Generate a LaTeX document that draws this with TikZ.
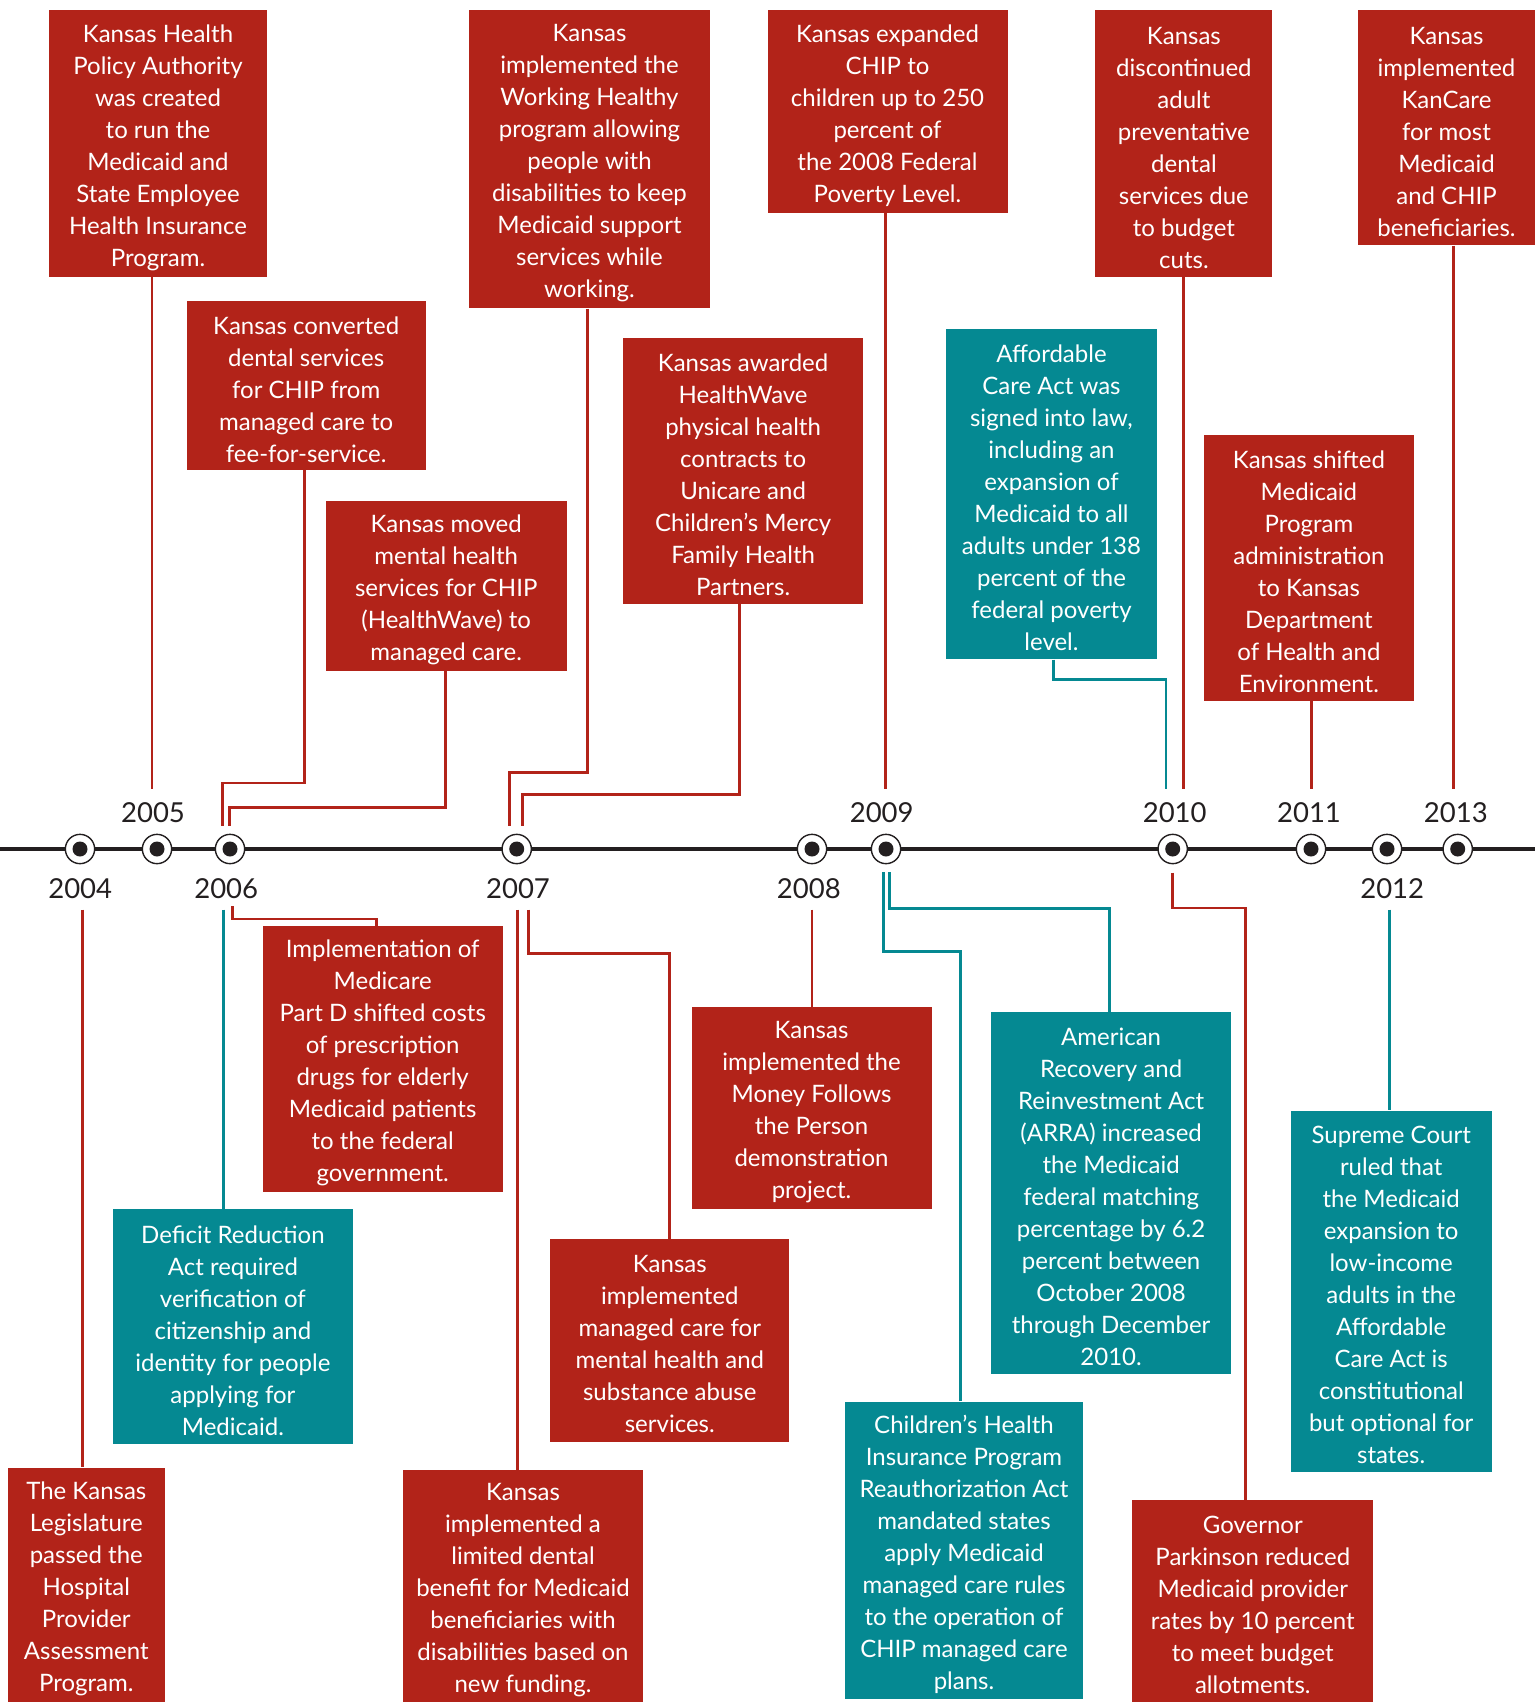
\documentclass[tikz,border=0pt]{standalone}
\usepackage{fontspec}
\setmainfont{Lato}
\definecolor{kred}{RGB}{178,35,25}
\definecolor{kteal}{RGB}{5,137,146}
\definecolor{kink}{RGB}{35,31,32}
\newcommand\evstrut{\rule{0pt}{25.5pt}}
\begin{document}
\begin{tikzpicture}[x=1pt,y=-1pt,
 evbox/.style={inner sep=0pt, text=white, align=center, font=\fontsize{24}{32}\selectfont},
 redbox/.style={evbox, fill=kred},
 tealbox/.style={evbox, fill=kteal},
 redline/.style={draw=kred, line width=2.7pt},
 tealline/.style={draw=kteal, line width=2.7pt},
 yearlab/.style={text=kink, font=\fontsize{27.5}{30}\selectfont, anchor=base, inner sep=0pt},
 marker/.style={circle, draw=kink, line width=1.4pt, fill=white, minimum size=29.3pt, inner sep=0pt,
   path picture={\fill[kink] (path picture bounding box.center) circle (7.5pt);}}]
\useasboundingbox (0,0) rectangle (1535,1702);
% timeline
\coordinate (tl0) at (0,849);
\coordinate (tl1) at (1535,849);
\draw[kink, line width=3.3pt] (tl0) -- (tl1);

% top boxes
\node[redbox, minimum width=218pt, minimum height=266.4pt] (A) at (158,143.5)
 {\evstrut Kansas Health\\Policy Authority\\was created\\to run the\\Medicaid and\\State Employee\\Health Insurance\\Program.};
\node[redbox, minimum width=239pt, minimum height=169.4pt] (B) at (306.2,385.4)
 {\evstrut Kansas converted\\dental services\\for CHIP from\\managed care to\\fee-for-service.};
\node[redbox, minimum width=241pt, minimum height=170.4pt] (C) at (446.2,585.7)
 {\evstrut Kansas moved\\mental health\\services for CHIP\\(HealthWave) to\\managed care.};
\node[redbox, minimum width=241pt, minimum height=298pt] (D) at (589.5,159.3)
 {\evstrut Kansas\\implemented the\\Working Healthy\\program allowing\\people with\\disabilities to keep\\Medicaid support\\services while\\working.};
\node[redbox, minimum width=240pt, minimum height=266pt] (E) at (743.1,470.6)
 {\evstrut Kansas awarded\\HealthWave\\physical health\\contracts to\\Unicare and\\Children’s Mercy\\Family Health\\Partners.};
\node[redbox, minimum width=240pt, minimum height=202.5pt] (F) at (887.5,111.5)
 {\evstrut Kansas expanded\\CHIP to\\children up to 250\\percent of\\the 2008 Federal\\Poverty Level.};
\node[tealbox, minimum width=211pt, minimum height=330pt] (G) at (1051.5,494.3)
 {\evstrut Affordable\\Care Act was\\signed into law,\\including an\\expansion of\\Medicaid to all\\adults under 138\\percent of the\\federal poverty\\level.};
\node[redbox, minimum width=177pt, minimum height=266.5pt] (H) at (1183.9,143.5)
 {\evstrut Kansas\\discontinued\\adult\\preventative\\dental\\services due\\to budget\\cuts.};
\node[redbox, minimum width=209.2pt, minimum height=265.4pt] (I) at (1308.9,568)
 {\evstrut Kansas shifted\\Medicaid\\Program\\administration\\to Kansas\\Department\\of Health and\\Environment.};
\node[redbox, minimum width=177pt, minimum height=235pt] (J) at (1446.5,127.8)
 {\evstrut Kansas\\implemented\\KanCare\\for most\\Medicaid\\and CHIP\\beneficiaries.};

% bottom boxes
\node[redbox, minimum width=157.5pt, minimum height=234.5pt] (K) at (86.3,1584.8)
 {\evstrut The Kansas\\Legislature\\passed the\\Hospital\\Provider\\Assessment\\Program.};
\node[tealbox, minimum width=240pt, minimum height=234.4pt] (L) at (232.9,1326.6)
 {\evstrut Deficit Reduction\\Act required\\verification of\\citizenship and\\identity for people\\applying for\\Medicaid.};
\node[redbox, minimum width=240pt, minimum height=266pt] (M) at (382.7,1059)
 {\evstrut Implementation of\\Medicare\\Part D shifted costs\\of prescription\\drugs for elderly\\Medicaid patients\\to the federal\\government.};
\node[redbox, minimum width=240pt, minimum height=232pt] (N) at (523,1586)
 {\evstrut Kansas\\implemented a\\limited dental\\benefit for Medicaid\\beneficiaries with\\disabilities based on\\new funding.};
\node[redbox, minimum width=238.8pt, minimum height=203pt] (O) at (669.8,1340.2)
 {\evstrut Kansas\\implemented\\managed care for\\mental health and\\substance abuse\\services.};
\node[redbox, minimum width=240pt, minimum height=202pt] (P) at (811.5,1108.4)
 {\evstrut Kansas\\implemented the\\Money Follows\\the Person\\demonstration\\project.};
\node[tealbox, minimum width=238.8pt, minimum height=297.5pt] (Q) at (964,1550.3)
 {\evstrut Children’s Health\\Insurance Program\\Reauthorization Act\\mandated states\\apply Medicaid\\managed care rules\\to the operation of\\CHIP managed care\\plans.};
\node[tealbox, minimum width=240pt, minimum height=362.6pt] (R) at (1111.1,1193.1)
 {\evstrut American\\Recovery and\\Reinvestment Act\\(ARRA) increased\\the Medicaid\\federal matching\\percentage by 6.2\\percent between\\October 2008\\through December\\2010.};
\node[tealbox, minimum width=200.8pt, minimum height=361.5pt] (S) at (1391.2,1291.3)
 {\evstrut Supreme Court\\ruled that\\the Medicaid\\expansion to\\low-income\\adults in the\\Affordable\\Care Act is\\constitutional\\but optional for\\states.};
\node[redbox, minimum width=241pt, minimum height=201.7pt] (T) at (1252.8,1601.2)
 {\evstrut Governor\\Parkinson reduced\\Medicaid provider\\rates by 10 percent\\to meet budget\\allotments.};

% connector ends
\coordinate (eA) at (152,788.5);
\coordinate (eB) at (222.7,826);
\coordinate (eC) at (229.7,826);
\coordinate (eD) at (509.3,826);
\coordinate (eE) at (522.7,826);
\coordinate (eF) at (885.5,788.5);
\coordinate (eG) at (1166,788.5);
\coordinate (eH) at (1183.3,788.5);
\coordinate (eI) at (1311.4,788.5);
\coordinate (eJ) at (1453.6,788.5);
\coordinate (sK) at (82.5,909.5);
\coordinate (sL) at (223.6,909.5);
\coordinate (sM) at (232.3,906);
\coordinate (sN) at (517.3,909.5);
\coordinate (sO) at (528.7,909.5);
\coordinate (sP) at (812,909.5);
\coordinate (sQ) at (883.3,872.3);
\coordinate (sR) at (889.3,872.3);
\coordinate (sS) at (1389.3,909.5);
\coordinate (sT) at (1172.3,872.5);

% connectors above
\draw[redline] (eA |- A.south) -- (eA);
\draw[redline] ([xshift=-2pt]B.south) |- ([yshift=43pt]eB) -- (eB);
\draw[redline] ([xshift=-1pt]C.south) |- ([yshift=18.7pt]eC) -- (eC);
\draw[redline] ([xshift=-2.2pt]D.south) |- ([yshift=53.3pt]eD) -- (eD);
\draw[redline] ([xshift=-3.8pt]E.south) |- ([yshift=31.7pt]eE) -- (eE);
\draw[redline] (eF |- F.south) -- (eF);
\draw[tealline] ([xshift=1.8pt]G.south) |- ([yshift=109.2pt]eG) -- (eG);
\draw[redline] (eH |- H.south) -- (eH);
\draw[redline] (eI |- I.south) -- (eI);
\draw[redline] (eJ |- J.south) -- (eJ);
% connectors below
\draw[redline] (sK) -- (sK |- K.north);
\draw[tealline] (sL) -- (sL |- L.north);
\draw[redline] (sM) |- ([xshift=-6pt,yshift=6.7pt]M.north) -- ([xshift=-6pt]M.north);
\draw[redline] (sN) -- (sN |- N.north);
\draw[redline] (sO) |- ([yshift=284.7pt]O.north) -- (O.north);
\draw[redline] (sP) -- (sP |- P.north);
\draw[tealline] (sQ) |- ([xshift=-3.7pt,yshift=450.2pt]Q.north) -- ([xshift=-3.7pt]Q.north);
\draw[tealline] (sR) |- ([xshift=-1.8pt,yshift=103.1pt]R.north) -- ([xshift=-1.8pt]R.north);
\draw[tealline] (sS) -- (sS |- S.north);
\draw[redline] (sT) |- ([xshift=-7.1pt,yshift=592.3pt]T.north) -- ([xshift=-7.1pt]T.north);

% markers
\node[marker] (m2004) at (80,849) {};
\node[marker] (m2005) at (157,849) {};
\node[marker] (m2006) at (230,849) {};
\node[marker] (m2007) at (516.7,849) {};
\node[marker] (m2008) at (812,849) {};
\node[marker] (m2009) at (886,849) {};
\node[marker] (m2010) at (1172.7,849) {};
\node[marker] (m2011) at (1311,849) {};
\node[marker] (m2012) at (1387,849) {};
\node[marker] (m2013) at (1457.7,849) {};

% year labels
\node[yearlab] (y2005) at (153,822.5) {2005};
\node[yearlab] (y2009) at (881.7,822.5) {2009};
\node[yearlab] (y2010) at (1174.7,822.5) {2010};
\node[yearlab] (y2011) at (1309,822.5) {2011};
\node[yearlab] (y2013) at (1455.8,822.5) {2013};
\node[yearlab] (y2004) at (80.2,898.5) {2004};
\node[yearlab] (y2006) at (226.2,898.5) {2006};
\node[yearlab] (y2007) at (518,898.5) {2007};
\node[yearlab] (y2008) at (808.8,898.5) {2008};
\node[yearlab] (y2012) at (1392.2,898.5) {2012};
\end{tikzpicture}
\end{document}
